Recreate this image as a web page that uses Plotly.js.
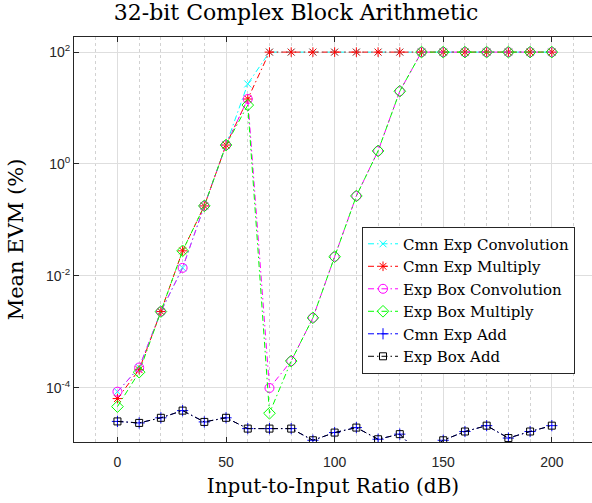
<!DOCTYPE html>
<html>
<head>
<meta charset="utf-8">
<script src="https://cdn.plot.ly/plotly-3.0.1.min.js"></script>
<style>html,body{margin:0;padding:0;background:#fff;}#chart{width:592px;height:503px;}</style>
</head>
<body>
<div id="chart"></div>
<script>
// Input-to-Input Ratio (dB)
const ratioDb = [0,10,20,30,40,50,60,70,80,90,100,110,120,130,140,150,160,170,180,190,200];

// Mean EVM (%) per series
const cmnExpConvolution = [8.5e-5,2.3e-4,2.3e-3,0.0139,0.178,2.18,27,100,100,100,100,100,100,100,100,100,100,100,100,100,100];
const cmnExpMultiply    = [6.4e-5,2.1e-4,2.3e-3,0.028,0.178,2.18,14.5,100,100,100,100,100,100,100,100,100,100,100,100,100,100];
const expBoxConvolution = [8.5e-5,2.3e-4,2.3e-3,0.0139,0.178,2.18,14.5,9.9e-5,3.0e-4,1.78e-3,0.022,0.268,1.71,20,100,100,100,100,100,100,100];
const expBoxMultiply    = [4.6e-5,1.9e-4,2.3e-3,0.028,0.178,2.18,11.3,3.5e-5,3.0e-4,1.78e-3,0.022,0.268,1.71,20,100,100,100,100,100,100,100];
const cmnExpAdd         = [2.5e-5,2.35e-5,2.9e-5,3.9e-5,2.45e-5,2.9e-5,1.86e-5,1.86e-5,1.86e-5,1.15e-5,1.58e-5,1.94e-5,1.2e-5,1.48e-5,6e-6,1.15e-5,1.65e-5,2.1e-5,1.26e-5,1.65e-5,2.1e-5];
const expBoxAdd         = [2.5e-5,2.35e-5,2.9e-5,3.9e-5,2.45e-5,2.9e-5,1.86e-5,1.86e-5,1.86e-5,1.15e-5,1.58e-5,1.94e-5,1.2e-5,1.48e-5,6e-6,1.15e-5,1.65e-5,2.1e-5,1.26e-5,1.65e-5,2.1e-5];

const seriesNames = ['Cmn Exp Convolution','Cmn Exp Multiply','Exp Box Convolution','Exp Box Multiply','Cmn Exp Add','Exp Box Add'];

const xTickVals = [0,50,100,150,200];
const yTickVals = [1e-4,1e-2,1,100];
const yTickText = ['10<sup>-4</sup>','10<sup>-2</sup>','10<sup>0</sup>','10<sup>2</sup>'];

const dashDot = '6px,3px,1.5px,3px';
function mk(y, name, color, symbol, size) {
  return {
    x: ratioDb, y: y, name: name, type: 'scatter', mode: 'lines+markers',
    line: {color: color, width: 1, dash: dashDot},
    marker: {symbol: symbol, size: size, color: color, line: {color: color, width: 1}}
  };
}

const data = [
  mk(cmnExpConvolution, seriesNames[0], '#00FFFF', 'x-thin-open', 7),
  mk(cmnExpMultiply,    seriesNames[1], '#FF0000', 'asterisk-open', 8),
  mk(expBoxConvolution, seriesNames[2], '#FF00FF', 'circle-open', 9),
  mk(expBoxMultiply,    seriesNames[3], '#00FF00', 'diamond-open', 9),
  mk(cmnExpAdd,         seriesNames[4], '#0000FF', 'cross-thin-open', 8),
  mk(expBoxAdd,         seriesNames[5], '#000000', 'square-open', 7)
];

const axisColor = '#262626';
const layout = {
  width: 592, height: 503,
  margin: {l: 74, r: 0, t: 37, b: 61},
  paper_bgcolor: '#fff', plot_bgcolor: '#fff',
  showlegend: true,
  title: {
    text: '32-bit Complex Block Arithmetic',
    font: {family: 'DejaVu Serif', size: 22, color: '#000'},
    x: 0.5, xref: 'container', xanchor: 'center',
    y: 0.976, yref: 'container', yanchor: 'middle'
  },
  xaxis: {
    range: [-20, 218.5],
    tickmode: 'array', tickvals: xTickVals,
    ticks: 'inside', ticklen: 5, tickcolor: axisColor, tickwidth: 1,
    ticklabelstandoff: 7,
    showline: true, linecolor: axisColor, linewidth: 1, mirror: 'ticks',
    showgrid: true, gridcolor: '#dedede', gridwidth: 1, zeroline: false,
    minor: {dtick: 10, tick0: 0, showgrid: true, gridcolor: '#d2d2d2', griddash: 'dot', ticks: ''},
    tickfont: {family: 'Liberation Sans, Arial', size: 14, color: axisColor},
    title: {text: 'Input-to-Input Ratio (dB)', font: {family: 'DejaVu Serif', size: 20, color: '#000'}, standoff: 10}
  },
  yaxis: {
    type: 'log', range: [-4.97, 2.27],
    tickmode: 'array', tickvals: yTickVals, ticktext: yTickText,
    ticks: 'inside', ticklen: 5, tickcolor: axisColor, tickwidth: 1,
    showline: true, linecolor: axisColor, linewidth: 1, mirror: false,
    showgrid: true, gridcolor: '#dedede', gridwidth: 1, zeroline: false,
    tickfont: {family: 'Liberation Sans, Arial', size: 14, color: axisColor},
    title: {text: 'Mean EVM (%)', font: {family: 'DejaVu Serif', size: 21, color: '#000'}, standoff: 16}
  },
  legend: {
    x: 0.556, y: 0.532, xanchor: 'left', yanchor: 'top',
    bgcolor: '#fff', bordercolor: axisColor, borderwidth: 1,
    font: {family: 'DejaVu Serif', size: 15, color: '#000'},
    itemwidth: 30, tracegroupgap: 0
  }
};

Plotly.newPlot('chart', data, layout, {displayModeBar: false, staticPlot: true});
</script>
</body>
</html>
